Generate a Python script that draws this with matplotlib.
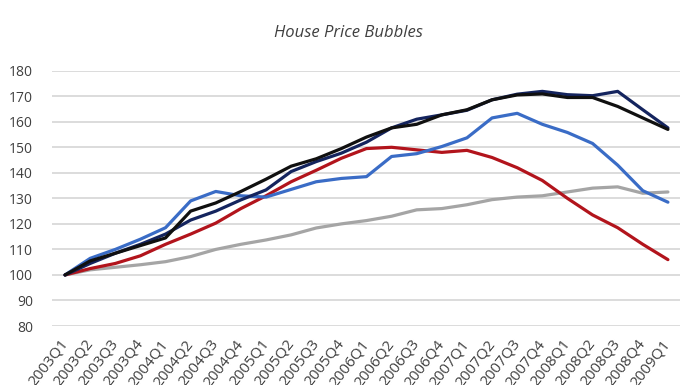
import matplotlib
matplotlib.use("Agg")
import matplotlib.pyplot as plt

quarters = [f"{y}Q{q}" for y in range(2003, 2009) for q in range(1, 5)] + ["2009Q1"]

gray_idx = [100, 102, 103, 104, 105.2, 107.2, 110, 112, 113.7, 115.7, 118.4, 120,
            121.3, 123, 125.5, 126, 127.5, 129.5, 130.5, 131, 132.5, 134, 134.5, 132, 132.5]
red_idx = [100, 102.5, 104.5, 107.5, 112, 116, 120.3, 126, 131, 136.5, 141, 145.7,
           149.5, 150, 149, 148, 148.8, 146, 142, 137, 130, 123.5, 118.5, 112, 106]
blue_idx = [100, 106.5, 110, 114, 118.5, 129, 132.7, 131, 130.5, 133.5, 136.5, 137.8,
            138.5, 146.4, 147.5, 150.3, 153.7, 161.5, 163.3, 159, 155.8, 151.5, 143, 133, 128.5]
black_idx = [100, 105.5, 108.5, 111.5, 114.5, 125, 128.2, 132.7, 137.5, 142.6, 145.5, 149.5,
             154, 157.6, 159, 162.7, 164.7, 168.6, 170.5, 170.9, 169.5, 169.5, 166, 161.5, 157]
navy_idx = [100, 104.5, 108.5, 112, 116, 121.5, 125, 129.4, 133.3, 140.5, 144.4, 147.7,
            152, 157.6, 161, 162.7, 164.5, 168.6, 170.8, 171.9, 170.6, 170.2, 171.9, 164.7, 157.6]

plt.rcParams['font.family'] = ['Open Sans', 'DejaVu Sans']

fig = plt.figure(figsize=(6.96, 3.85), dpi=100)
ax = fig.add_axes([0.0754, 0.1532, 0.9023, 0.6632])

x = list(range(len(quarters)))
lw = 2.3
ax.plot(x, gray_idx, color='#A5A5A5', lw=lw, solid_capstyle='round')
ax.plot(x, red_idx, color='#B2141C', lw=lw, solid_capstyle='round')
ax.plot(x, blue_idx, color='#3A6CC6', lw=lw, solid_capstyle='round')
ax.plot(x, navy_idx, color='#14245E', lw=lw, solid_capstyle='round')
ax.plot(x, black_idx, color='#101010', lw=lw, solid_capstyle='round')

ax.set_xlim(-0.5, len(quarters) - 0.5)
ax.set_ylim(80, 180)
ax.set_yticks(range(80, 181, 10))
ax.set_xticks(x)
ax.set_xticklabels(quarters, rotation=52, ha='right', va='center', rotation_mode='anchor',
                   fontsize=11)
ax.grid(axis='y', color='#D9D9D9', lw=1.3)
ax.set_axisbelow(True)
for s in ax.spines.values():
    s.set_visible(False)
ax.tick_params(axis='both', length=0, colors='#404040', labelsize=10)
ax.tick_params(axis='y', pad=14)
ax.tick_params(axis='x', pad=11, labelsize=11)

fig.text(0.5, 1 - 33 / 385, "House Price Bubbles", ha='center', va='center',
         fontsize=12, style='italic', color='#404040')

fig.savefig("out.png", dpi=100)
